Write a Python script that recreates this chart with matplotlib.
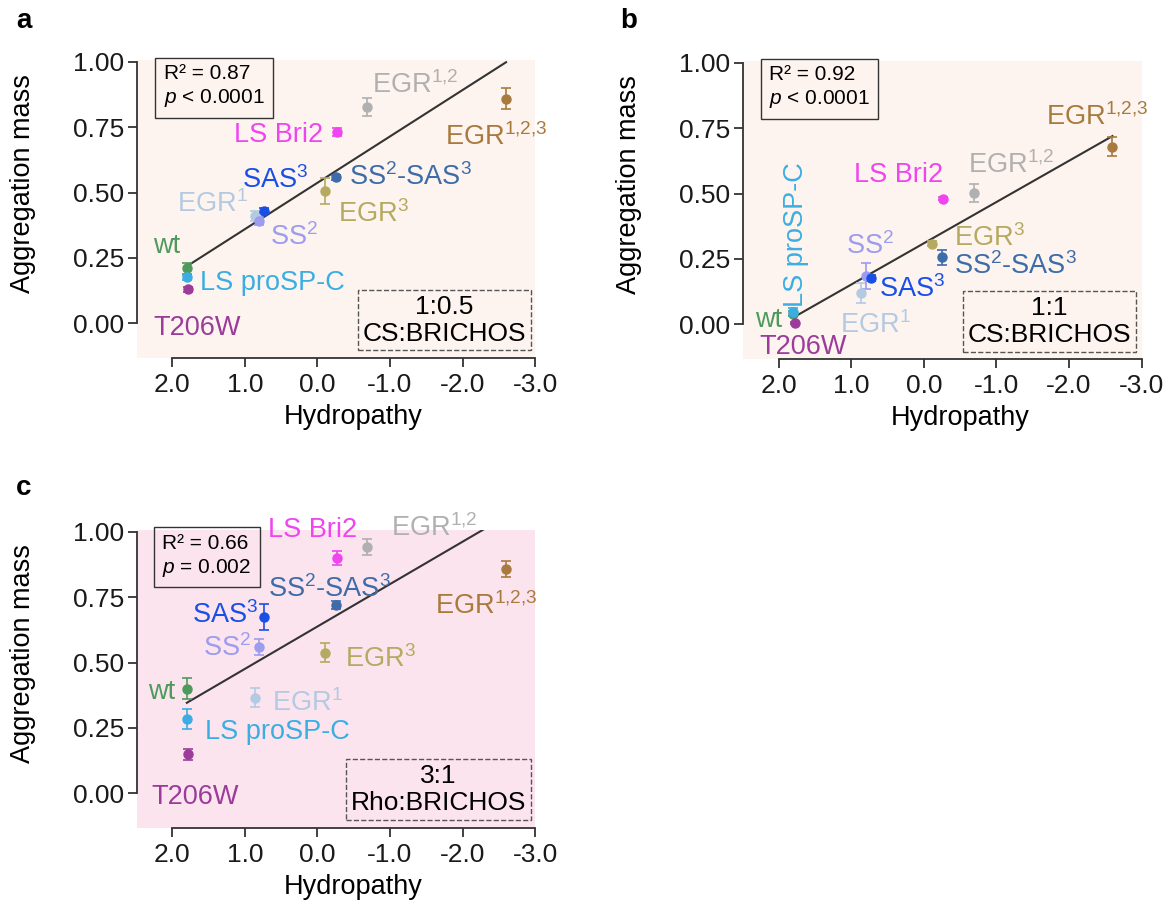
import numpy as np
import matplotlib.pyplot as plt
from matplotlib.ticker import FormatStrFormatter

plt.rcParams['font.family'] = ['Liberation Sans', 'DejaVu Sans']
plt.rcParams['mathtext.fontset'] = 'custom'
plt.rcParams['mathtext.rm'] = 'Liberation Sans'
plt.rcParams['mathtext.it'] = 'Liberation Sans:italic'
plt.rcParams['mathtext.default'] = 'regular'
plt.rcParams['axes.unicode_minus'] = False

# variants and their hydropathy (shared by all panels)
variants = ['wt', 'LS proSP-C', 'T206W', 'EGR$^1$', 'SS$^2$', 'SAS$^3$', 'EGR$^3$',
            'SS$^2$-SAS$^3$', 'LS Bri2', 'EGR$^{1{,}2}$', 'EGR$^{1{,}2{,}3}$']
hydropathy = [1.80, 1.80, 1.78, 0.86, 0.80, 0.73, -0.11, -0.25, -0.27, -0.69, -2.60]
colors = ['#4e9a5c', '#3aaee2', '#9b3c9b', '#b3cae2', '#9c9cf0', '#1a4fe6', '#b5aa60',
          '#3d6ca8', '#ef45ef', '#b0b0b0', '#a87a3e']

# aggregation mass (mean, error) per panel
mass_a = [0.21, 0.176, 0.13, 0.41, 0.39, 0.43, 0.506, 0.558, 0.733, 0.826, 0.859]
err_a = [0.02, 0.01, 0.01, 0.02, 0.015, 0.01, 0.05, 0.01, 0.015, 0.035, 0.04]
mass_b = [0.04, 0.047, 0.005, 0.12, 0.185, 0.177, 0.308, 0.256, 0.48, 0.502, 0.68]
err_b = [0.01, 0.015, 0.005, 0.038, 0.05, 0.01, 0.01, 0.03, 0.005, 0.035, 0.035]
mass_c = [0.40, 0.284, 0.149, 0.366, 0.56, 0.673, 0.538, 0.72, 0.90, 0.943, 0.859]
err_c = [0.04, 0.04, 0.02, 0.035, 0.03, 0.05, 0.035, 0.015, 0.025, 0.03, 0.03]

stats_a = 'R² = 0.87\n$\\mathit{p}$ < 0.0001'
stats_b = 'R² = 0.92\n$\\mathit{p}$ < 0.0001'
stats_c = 'R² = 0.66\n$\\mathit{p}$ = 0.002'
cond_a = '1:0.5\nCS:BRICHOS'
cond_b = '1:1\nCS:BRICHOS'
cond_c = '3:1\nRho:BRICHOS'

# label placement (left / baseline, data coords)
lab_a = [(2.26, 0.27), (1.62, 0.128), (2.26, -0.044), (1.94, 0.424), (0.66, 0.30),
         (1.04, 0.516), (-0.28, 0.389), (-0.44, 0.529), (1.15, 0.695), (-0.75, 0.879),
         (-1.76, 0.682)]
lab_b = [(2.32, -0.01), (1.66, 0.066), (2.27, -0.112), (1.15, -0.033), (1.07, 0.27),
         (0.62, 0.105), (-0.42, 0.300), (-0.42, 0.193), (0.96, 0.544), (-0.61, 0.579),
         (-1.68, 0.762)]
lab_c = [(2.34, 0.361), (1.55, 0.208), (2.29, -0.041), (0.63, 0.316), (1.58, 0.526),
         (1.73, 0.652), (-0.38, 0.482), (0.68, 0.752), (0.68, 0.979), (-1.02, 0.985),
         (-1.62, 0.686)]


def draw_panel(rect, mass, err, labels, bg, stats, stats_xy, cond, cond_xy, rot=None):
    ax = fig.add_axes(rect)
    ax.set_facecolor(bg)
    for i in range(len(variants)):
        ax.errorbar(hydropathy[i], mass[i], yerr=err[i], fmt='o', color=colors[i],
                    ms=6.5, capsize=3.5, elinewidth=1.2, capthick=1.2, zorder=3)
        r = 90 if rot == i else 0
        ax.text(labels[i][0], labels[i][1], variants[i], color=colors[i], fontsize=19.5,
                ha='left', va='baseline', rotation=r, rotation_mode='anchor')
    coef = np.polyfit(hydropathy, mass, 1)
    xs = np.array([max(hydropathy), min(hydropathy)])
    ax.plot(xs, np.polyval(coef, xs), color='#333333', lw=1.5, zorder=2)

    ax.text(stats_xy[0], stats_xy[1], stats, fontsize=15, ha='left', va='center',
            linespacing=1.25,
            bbox=dict(boxstyle='square,pad=0.4', fc='none', ec='#333333', lw=1.0))
    ax.text(cond_xy[0], cond_xy[1], cond, fontsize=19, ha='center', va='center',
            linespacing=1.15,
            bbox=dict(boxstyle='square,pad=0.18', fc='none', ec='#555555', lw=1.0, ls='--'))

    ax.set_xlim(2.49, -3.005)
    ax.set_ylim(-0.134, 1.007)
    for s in ['top', 'right']:
        ax.spines[s].set_visible(False)
    ax.spines['left'].set_bounds(0, 1)
    ax.spines['bottom'].set_bounds(-3, 2)
    for s in ['left', 'bottom']:
        ax.spines[s].set_linewidth(1.3)
        ax.spines[s].set_color('#333333')
    ax.set_xticks([2, 1, 0, -1, -2, -3])
    ax.set_yticks([0, 0.25, 0.5, 0.75, 1.0])
    ax.xaxis.set_major_formatter(FormatStrFormatter('%.1f'))
    ax.yaxis.set_major_formatter(FormatStrFormatter('%.2f'))
    ax.tick_params(direction='out', length=6.3, width=1.3, color='#333333',
                   labelsize=19, labelcolor='#1a1a1a')
    ax.tick_params(axis='x', pad=4.5)
    ax.tick_params(axis='y', pad=3)
    ax.set_xlabel('Hydropathy', fontsize=19.5)
    ax.set_ylabel('Aggregation mass', fontsize=19.5)
    ax.xaxis.set_label_coords(0.544, -0.153)
    ax.yaxis.set_label_coords(-0.254, 0.585)
    return ax


fig = plt.figure(figsize=(11.75, 9.08), dpi=100)

draw_panel([0.1164, 0.6054, 0.3393, 0.3285], mass_a, err_a, lab_a, '#fdf4ef',
           stats_a, (2.12, 0.905), cond_a, (-1.745, 0.012))
draw_panel([0.6325, 0.6043, 0.3393, 0.3285], mass_b, err_b, lab_b, '#fdf4ef',
           stats_b, (2.13, 0.904), cond_b, (-1.735, 0.01), rot=1)
draw_panel([0.1164, 0.0878, 0.3393, 0.3285], mass_c, err_c, lab_c, '#fce4ef',
           stats_c, (2.14, 0.907), cond_c, (-1.665, 0.015))

fig.text(16 / 1175, 1 - 28 / 908, 'a', fontsize=20, fontweight='bold', va='baseline')
fig.text(620 / 1175, 1 - 28 / 908, 'b', fontsize=20, fontweight='bold', va='baseline')
fig.text(16 / 1175, 1 - 495 / 908, 'c', fontsize=20, fontweight='bold', va='baseline')

plt.savefig('out.png', dpi=100)
